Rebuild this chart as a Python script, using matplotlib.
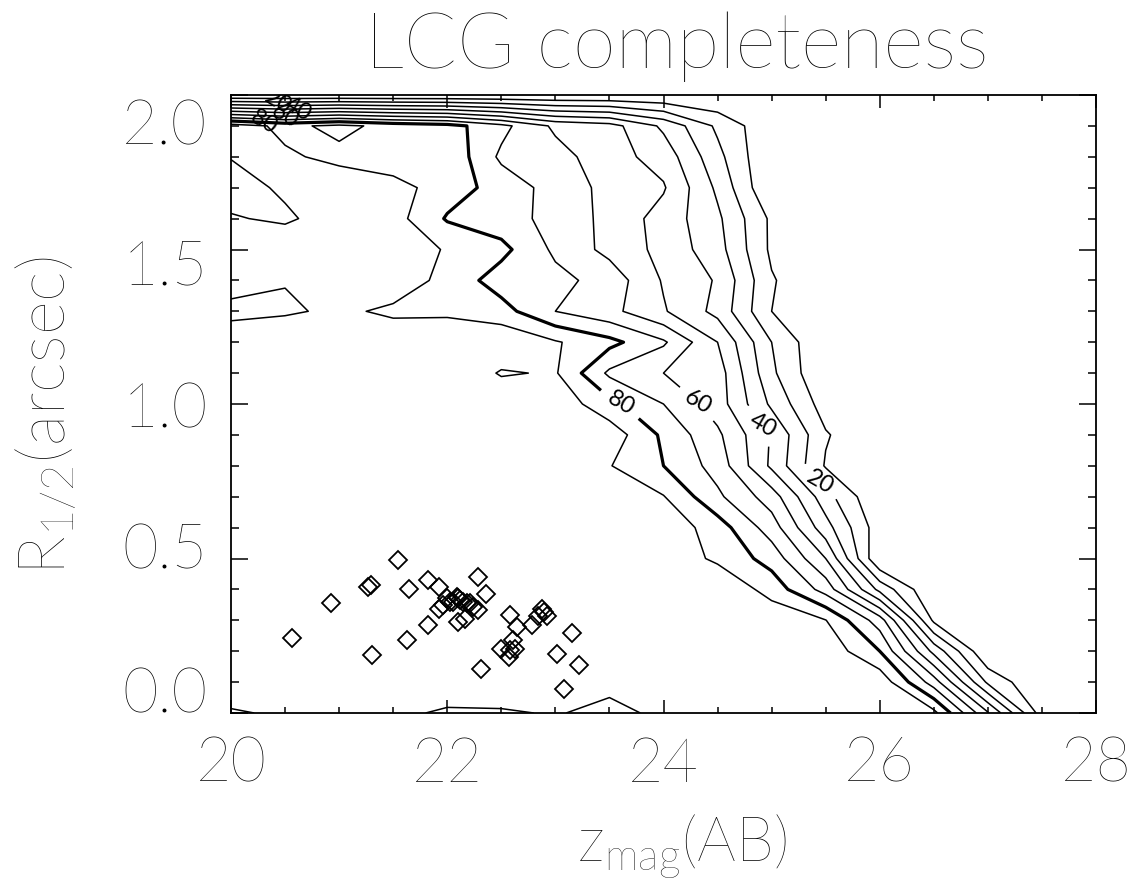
import matplotlib
matplotlib.use("Agg")
import matplotlib.pyplot as plt
from matplotlib.ticker import MultipleLocator, FixedLocator
from matplotlib.transforms import ScaledTranslation

plt.rcParams['font.family'] = ['Lato', 'DejaVu Sans']
plt.rcParams['font.weight'] = 'light'
plt.rcParams['mathtext.fontset'] = 'custom'
plt.rcParams['mathtext.rm'] = 'Lato:light'
plt.rcParams['mathtext.it'] = 'Lato:light'

# completeness grid: magnitude bins (columns) x half-light radius bins (rows)
mag_bins = [20.0, 20.5, 21.0, 21.5, 22.0, 22.5, 23.0, 23.5, 24.0,
            24.5, 25.0, 25.5, 26.0, 26.5, 27.0, 27.5, 28.0]
radius_bins = [0.0, 0.1, 0.2, 0.3, 0.4, 0.5, 0.6, 0.7, 0.8, 0.9, 1.0,
               1.1, 1.2, 1.3, 1.4, 1.5, 1.6, 1.7, 1.8, 1.9, 2.0]
completeness = [
    [88.5, 92, 95, 93, 88, 88.5, 91, 86, 93, 96, 97, 97, 96, 93, 51, 5, 0],
    [99, 99, 99, 99, 99, 99, 98, 94, 97, 98, 98, 98, 97, 65, 18, 0, 0],
    [99, 99, 99, 99, 99, 99, 99, 99, 98, 98, 98, 97, 80, 37, 0, 0, 0],
    [99, 99, 99, 99, 99, 99, 99, 99, 98, 98, 97, 90.3, 65, 8, 0, 0, 0],
    [99, 99, 99, 99, 99, 99, 99, 99, 99, 99, 86, 66, 27, 0, 0, 0, 0],
    [99, 99, 99, 99, 99, 99, 99, 98, 97, 88, 76, 50, 0, 0, 0, 0, 0],
    [99, 99, 99, 99, 99, 99, 99, 98, 97, 85, 65, 34, 4, 0, 0, 0, 0],
    [99, 99, 99, 99, 99, 99, 98, 97, 90.5, 72, 55, 24, 0, 0, 0, 0, 0],
    [99, 99, 99, 99, 99, 99, 97, 90.5, 80, 66, 38, 9, 0, 0, 0, 0, 0],
    [99, 99, 99, 99, 99, 99, 98, 96, 78, 62, 39, 11, 0, 0, 0, 0, 0],
    [99, 99, 99, 99, 99, 98, 97, 83, 70, 55, 28, 5, 0, 0, 0, 0, 0],
    [99, 99, 99, 98, 99, 89, 91, 68, 60, 55, 22, 0, 0, 0, 0, 0, 0],
    [99, 99, 98, 97, 98, 98, 91, 83, 71.5, 50, 20, 0, 0, 0, 0, 0, 0],
    [86, 88.5, 92, 88, 88, 84, 70, 63, 51, 37, 10, 0, 0, 0, 0, 0, 0],
    [96, 90.5, 97, 96, 87, 75, 73, 66, 49, 39, 11, 0, 0, 0, 0, 0, 0],
    [97, 99, 98, 97, 89, 83, 68, 57, 47, 34, 8, 0, 0, 0, 0, 0, 0],
    [91, 88, 96, 94, 79, 74, 67, 57, 46, 32, 8, 0, 0, 0, 0, 0, 0],
    [85, 92, 96, 94, 85, 76, 66, 57, 51, 28, 0, 0, 0, 0, 0, 0, 0],
    [90.5, 91.5, 87.5, 83.5, 88, 68, 64, 54, 46, 23, 0, 0, 0, 0, 0, 0, 0],
    [95, 87.5, 92.5, 87, 84, 73, 58, 54, 38, 18, 2, 0, 0, 0, 0, 0, 0],
    [0, 0, 0, 0, 0, 0, 0, 0, 0, 0, 0, 0, 0, 0, 0, 0, 0],
]
contour_levels = [10, 20, 30, 40, 50, 60, 70, 80, 90]
labelled_levels = [20, 40, 60, 80]

# observed LCGs
lcg_mag = [21.547, 21.270, 21.292, 20.925, 20.561, 21.649, 21.819, 21.924,
           22.287, 22.358, 21.926, 21.825, 21.625, 21.301, 22.309,
           21.995, 22.025, 22.050, 22.087, 22.102, 22.118, 22.148, 22.180,
           22.210, 22.241, 22.287, 21.963, 22.102, 22.164,
           22.580, 22.642, 22.781, 22.874, 22.920, 22.842, 22.895,
           22.494, 22.580, 22.611, 22.627, 22.574,
           23.151, 23.012, 23.221, 23.080]
lcg_radius = [0.495, 0.409, 0.414, 0.355, 0.242, 0.400, 0.430, 0.407,
              0.441, 0.385, 0.336, 0.285, 0.236, 0.188, 0.141,
              0.371, 0.360, 0.360, 0.376, 0.371, 0.366, 0.360, 0.357,
              0.355, 0.344, 0.333, 0.350, 0.295, 0.303,
              0.317, 0.279, 0.285, 0.336, 0.314, 0.314, 0.327,
              0.206, 0.204, 0.236, 0.206, 0.182,
              0.258, 0.191, 0.155, 0.077]

x_ticks = [20, 22, 24, 26, 28]
x_ticklabels = ['20', '22', '24', '26', '28']
y_ticks = [0.0, 0.5, 1.0, 1.5, 2.0]
y_ticklabels = ['0.0', '0.5', '1.0', '1.5', '2.0']

W, H = 1133, 894
fig = plt.figure(figsize=(W / 100, H / 100), dpi=100)
ax = fig.add_axes([231 / W, (H - 713) / H, (1096 - 231) / W, (713 - 95) / H])

# label positions: along the steep part, and crowded at the top edge
diag_pos = {20: (25.45, 0.749), 40: (24.85, 0.916), 60: (24.26, 0.98),
            80: (23.61, 1.007)}
top_pos = {20: (20.43, 1.979), 40: (20.62, 1.958), 60: (20.50, 1.937),
           80: (20.31, 1.916)}

for lev in contour_levels:
    lw = 2.3 if lev == 80 else 1.1
    cs = ax.contour(mag_bins, radius_bins, completeness, levels=[lev],
                    colors='black', linewidths=lw)
    if lev in labelled_levels:
        for t in cs.clabel(manual=[diag_pos[lev]], inline=True,
                           inline_spacing=10, fmt='%d', fontsize=17):
            t.set_color('black')
            t.set_fontweight('normal')
        for t in cs.clabel(manual=[top_pos[lev]], inline=False, fmt='%d',
                           fontsize=17):
            t.set_color('black')
            t.set_fontweight('normal')
            t.set_rotation(-30)

ax.plot(lcg_mag, lcg_radius, linestyle='none', marker='D', markersize=9.3,
        markerfacecolor='none', markeredgecolor='black', markeredgewidth=1.3)

ax.set_xlim(20, 28)
ax.set_ylim(0, 2.0)
ax.xaxis.set_major_locator(FixedLocator(x_ticks))
ax.xaxis.set_minor_locator(MultipleLocator(0.5))
ax.yaxis.set_major_locator(FixedLocator(y_ticks))
ax.yaxis.set_minor_locator(MultipleLocator(0.1))
ax.set_xticklabels(x_ticklabels)
ax.set_yticklabels(y_ticklabels)

for s in ax.spines.values():
    s.set_linewidth(1.3)
ax.tick_params(which='both', direction='in', top=True, right=True, width=1.1)
ax.tick_params(axis='x', which='major', length=9.5, pad=17, labelsize=44)
ax.tick_params(axis='x', which='minor', length=4.3)
ax.tick_params(axis='y', which='major', length=12, pad=17, labelsize=44)
ax.tick_params(axis='y', which='minor', length=6)

# y tick labels sit slightly off their ticks
y_label_shift_px = [-23, -12.5, 1, 12.5, 27]
for lbl, dy in zip(ax.get_yticklabels(), y_label_shift_px):
    lbl.set_transform(lbl.get_transform() +
                      ScaledTranslation(0, -dy / 100, fig.dpi_scale_trans))

fig.text(677 / W, 1 - 68 / H, 'LCG completeness', ha='center', va='baseline',
         fontsize=56)
fig.text(682 / W, 1 - 862 / H, r'z$_{\mathrm{mag}}$(AB)', ha='center',
         va='baseline', fontsize=44)
fig.text(46 / W, 1 - 416 / H, r'R$_{\mathrm{1/2}}$(arcsec)', ha='center',
         va='center', rotation=90, fontsize=47)

fig.savefig('out.png', dpi=100)
